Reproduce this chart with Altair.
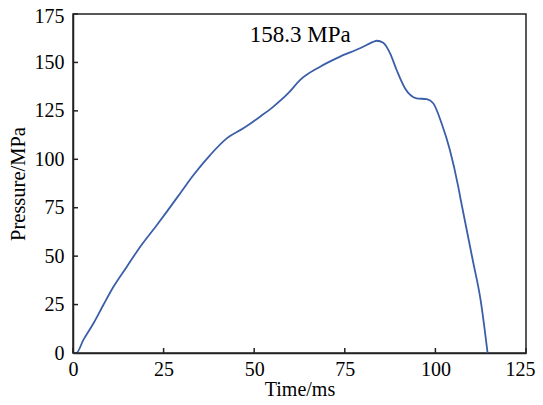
import altair as alt
import pandas as pd

# Time (ms) and pressure (MPa)
time_ms = [0.0, 0.9, 2.9, 5.7, 8.4, 11.2, 14.9, 18.6, 23.2, 25.9, 29.6, 33.3, 37.9,
           42.5, 47.0, 51.6, 55.3, 59.4, 62.7, 68.2, 73.7, 79.2, 82.8, 83.8, 85.6,
           87.5, 89.3, 91.6, 94.8, 97.6, 99.4, 101.7, 104.0, 106.3, 107.0, 110.3,
           112.5, 114.4]
pressure = [0.0, 0.0, 6.9, 15.5, 24.9, 34.3, 44.7, 55.0, 66.2, 73.0, 82.5, 92.0, 102.3,
            110.9, 116.0, 122.0, 127.2, 134.1, 141.0, 147.8, 153.0, 157.3, 160.6, 161.2,
            160.2, 154.7, 146.1, 136.7, 131.5, 131.0, 128.9, 118.6, 104.8, 85.9, 79.0,
            48.0, 27.0, 0.0]

x_ticks = [0, 25, 50, 75, 100, 125]
y_ticks = [0, 25, 50, 75, 100, 125, 150, 175]

ann_label = ["158.3 MPa"]
ann_t = [62.7]
ann_p = [160.3]

df = pd.DataFrame({"t": time_ms, "p": pressure})
ann = pd.DataFrame({"t": ann_t, "p": ann_p, "label": ann_label})
xt = pd.DataFrame({"v": x_ticks})
yt = pd.DataFrame({"v": y_ticks})

FONT = "Liberation Serif"
W, H = 453, 339
xscale = alt.Scale(domain=[0, 125], nice=False, zero=False)
yscale = alt.Scale(domain=[0, 175], nice=False, zero=False)

x_main = alt.X("t:Q", scale=xscale, axis=alt.Axis(
    orient="bottom", values=x_ticks, title="Time/ms", ticks=False, tickSize=0,
    labelPadding=6, titlePadding=0, labelFlush=False, labelOverlap=False,
    labelOffset=alt.ExprRef("datum.value == 125 ? -6 : 0"),
    domainColor="#222", domainWidth=1.5, grid=False,
    labelFontSize=20, titleFontSize=20, labelFont=FONT, titleFont=FONT,
    titleFontWeight="normal", labelColor="black", titleColor="black"))
y_main = alt.Y("p:Q", scale=yscale, axis=alt.Axis(
    orient="left", values=y_ticks, title="Pressure/MPa", ticks=False, tickSize=0,
    labelPadding=9, titlePadding=6, labelFlush=False, labelOverlap=False,
    labelOffset=alt.ExprRef("datum.value == 175 ? 2.5 : 0"),
    domainColor="#222", domainWidth=1.5, grid=False,
    labelFontSize=20, titleFontSize=20.5, labelFont=FONT, titleFont=FONT,
    titleFontWeight="normal", labelColor="black", titleColor="black"))

line = alt.Chart(df).mark_line(color="#3b5ea8", strokeWidth=1.8,
                               interpolate="monotone").encode(x=x_main, y=y_main)

text = alt.Chart(ann).mark_text(font=FONT, fontSize=23, color="black",
                                align="center", baseline="alphabetic").encode(
    x=alt.X("t:Q", scale=xscale), y=alt.Y("p:Q", scale=yscale), text="label:N")

# inward tick marks at the axis tick values
xtick_marks = alt.Chart(xt).mark_rule(color="#222", strokeWidth=1.5).encode(
    x=alt.X("v:Q", scale=xscale), y=alt.value(H), y2=alt.value(H - 5))
ytick_marks = alt.Chart(yt).mark_rule(color="#222", strokeWidth=1.5).encode(
    y=alt.Y("v:Q", scale=yscale), x=alt.value(0), x2=alt.value(5))

chart = alt.layer(line, xtick_marks, ytick_marks, text).properties(
    width=W, height=H,
    autosize=alt.AutoSizeParams(type="none"),
    padding={"left": 65, "top": 6, "right": 9, "bottom": 44},
).configure_view(stroke="#222", strokeWidth=1.5).configure_axis(
    labelFont=FONT, titleFont=FONT)

chart.save("out.html", embed_options={"renderer": "svg", "actions": False})
